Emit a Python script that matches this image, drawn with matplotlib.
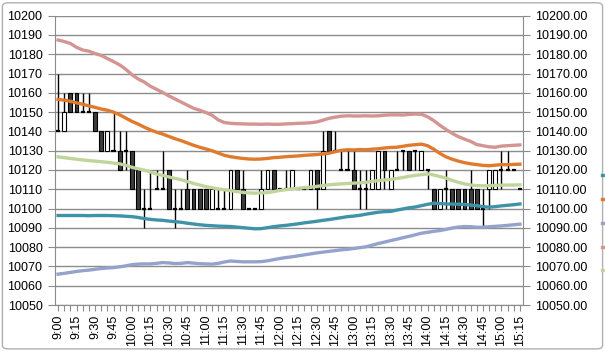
import numpy as np
import matplotlib
matplotlib.use("Agg")
import matplotlib.pyplot as plt
from matplotlib.patches import FancyBboxPatch

plt.rcParams['font.family'] = ['Liberation Sans', 'DejaVu Sans']

# 5-minute candles, 9:00 - 15:15
opens = [10140, 10140, 10160, 10160, 10150, 10150, 10150, 10140, 10130, 10130,
         10130, 10130, 10130, 10120, 10100, 10100, 10110, 10110, 10120, 10100,
         10100, 10110, 10110, 10110, 10110, 10100, 10100, 10100, 10100, 10120,
         10110, 10100, 10100, 10100, 10110, 10120, 10110, 10110, 10110, 10110,
         10110, 10110, 10120, 10110, 10140, 10130, 10120, 10120, 10120, 10110,
         10110, 10110, 10110, 10130, 10110, 10120, 10130, 10130, 10130, 10120,
         10120, 10110, 10100, 10110, 10110, 10110, 10110, 10110, 10110, 10100,
         10110, 10110, 10120, 10120, 10120, 10110]
highs = [10170, 10160, 10160, 10160, 10160, 10160, 10150, 10140, 10140, 10150,
         10140, 10140, 10130, 10120, 10110, 10120, 10120, 10130, 10120, 10110,
         10110, 10120, 10110, 10110, 10110, 10110, 10110, 10110, 10120, 10120,
         10120, 10100, 10100, 10120, 10120, 10120, 10110, 10120, 10120, 10110,
         10110, 10120, 10120, 10140, 10140, 10140, 10130, 10130, 10130, 10120,
         10120, 10120, 10130, 10130, 10120, 10130, 10130, 10130, 10130, 10130,
         10120, 10110, 10110, 10120, 10110, 10110, 10110, 10120, 10110, 10110,
         10120, 10120, 10130, 10130, 10120, 10110]
lows = [10140, 10140, 10150, 10150, 10150, 10150, 10140, 10130, 10130, 10130,
        10120, 10120, 10110, 10100, 10090, 10100, 10110, 10110, 10100, 10090,
        10100, 10100, 10100, 10100, 10100, 10100, 10100, 10100, 10100, 10110,
        10100, 10100, 10100, 10100, 10110, 10110, 10110, 10110, 10110, 10110,
        10110, 10110, 10100, 10110, 10130, 10130, 10120, 10120, 10110, 10100,
        10100, 10110, 10110, 10110, 10110, 10120, 10120, 10120, 10120, 10120,
        10110, 10100, 10100, 10100, 10100, 10100, 10100, 10100, 10100, 10090,
        10100, 10110, 10110, 10120, 10120, 10110]
closes = [10140, 10150, 10150, 10150, 10150, 10150, 10140, 10130, 10140, 10130,
          10120, 10130, 10110, 10100, 10100, 10100, 10110, 10110, 10100, 10100,
          10100, 10100, 10100, 10100, 10100, 10110, 10100, 10100, 10120, 10110,
          10100, 10100, 10100, 10110, 10120, 10110, 10110, 10110, 10120, 10110,
          10110, 10120, 10110, 10130, 10130, 10130, 10120, 10120, 10110, 10110,
          10110, 10120, 10130, 10120, 10120, 10120, 10130, 10120, 10130, 10130,
          10120, 10100, 10110, 10110, 10100, 10100, 10100, 10100, 10100, 10100,
          10120, 10120, 10120, 10120, 10120, 10110]

# bands
minus1 = [10096.4, 10096.4, 10096.4, 10096.4, 10096.4, 10096.3, 10096.4, 10096.4, 10096.4, 10096.3,
          10096.2, 10096.0, 10095.8, 10095.4, 10094.8, 10094.4, 10094.1, 10093.9, 10093.5, 10093.2,
          10092.9, 10092.4, 10092.0, 10091.6, 10091.3, 10091.1, 10090.9, 10090.8, 10090.7, 10090.4,
          10090.1, 10089.8, 10089.5, 10089.6, 10090.1, 10090.6, 10091.0, 10091.3, 10091.7, 10092.1,
          10092.6, 10093.0, 10093.4, 10093.9, 10094.3, 10094.8, 10095.3, 10095.8, 10096.1, 10096.5,
          10097.1, 10097.6, 10098.1, 10098.4, 10098.5, 10099.2, 10099.8, 10100.4, 10100.8, 10101.5,
          10102.2, 10102.8, 10102.6, 10102.4, 10102.3, 10102.3, 10102.1, 10101.8, 10101.5, 10101.0,
          10100.7, 10101.0, 10101.4, 10101.7, 10102.0, 10102.4]
plus1 = [10156.6, 10156.2, 10155.6, 10154.8, 10154.1, 10153.2, 10152.5, 10151.6, 10151.0, 10150.0,
         10148.6, 10146.9, 10145.2, 10143.8, 10142.2, 10140.8, 10139.6, 10138.6, 10137.4, 10136.2,
         10135.2, 10134.0, 10132.8, 10131.8, 10130.9, 10130.0, 10128.8, 10127.6, 10126.9, 10126.4,
         10126.0, 10125.7, 10125.6, 10125.7, 10126.0, 10126.4, 10126.6, 10126.9, 10127.1, 10127.3,
         10127.6, 10127.8, 10128.0, 10128.3, 10128.7, 10129.5, 10130.2, 10130.5, 10130.4, 10130.6,
         10130.5, 10130.8, 10131.0, 10131.4, 10131.7, 10131.8, 10132.3, 10132.8, 10133.1, 10133.4,
         10132.6, 10130.8, 10128.6, 10126.8, 10125.6, 10124.6, 10123.8, 10123.2, 10122.8, 10122.4,
         10122.2, 10122.5, 10122.8, 10122.7, 10122.9, 10123.0]
minus2 = [10066.0, 10066.4, 10066.9, 10067.4, 10067.8, 10068.1, 10068.5, 10068.9, 10069.2, 10069.4,
          10069.8, 10070.3, 10070.9, 10071.2, 10071.3, 10071.3, 10071.6, 10072.0, 10071.8, 10071.5,
          10071.6, 10072.0, 10071.7, 10071.4, 10071.3, 10071.2, 10071.6, 10072.3, 10072.8, 10072.6,
          10072.4, 10072.4, 10072.4, 10072.5, 10072.9, 10073.5, 10074.1, 10074.6, 10075.0, 10075.5,
          10076.0, 10076.5, 10077.0, 10077.4, 10077.8, 10078.2, 10078.6, 10078.9, 10079.3, 10079.7,
          10080.2, 10081.0, 10081.9, 10082.6, 10083.4, 10084.1, 10084.9, 10085.6, 10086.4, 10087.2,
          10087.7, 10088.2, 10088.6, 10089.2, 10089.9, 10090.4, 10090.7, 10090.6, 10090.3, 10090.3,
          10090.6, 10090.8, 10091.0, 10091.3, 10091.6, 10091.9]
plus2 = [10187.4, 10186.6, 10185.6, 10183.6, 10182.2, 10181.6, 10180.4, 10179.4, 10177.8, 10176.2,
         10174.5, 10172.2, 10169.4, 10167.2, 10165.6, 10163.4, 10161.8, 10160.2, 10158.4, 10156.8,
         10155.2, 10153.6, 10152.0, 10151.0, 10149.8, 10148.4, 10146.0, 10144.6, 10144.2, 10144.0,
         10143.9, 10143.8, 10143.8, 10143.7, 10143.8, 10143.7, 10143.7, 10143.9, 10144.0, 10144.2,
         10144.3, 10144.5, 10144.9, 10145.8, 10146.8, 10147.4, 10147.9, 10148.1, 10148.0, 10148.0,
         10148.1, 10148.0, 10148.1, 10148.4, 10148.6, 10148.6, 10148.5, 10148.8, 10149.0, 10148.9,
         10147.6, 10145.6, 10143.2, 10141.0, 10139.0, 10137.3, 10136.0, 10134.8, 10133.2, 10132.6,
         10132.0, 10131.8, 10132.4, 10132.6, 10132.8, 10133.0]
ma = [10126.8, 10126.4, 10126.0, 10125.6, 10125.2, 10124.9, 10124.6, 10124.3, 10124.0, 10123.6,
      10123.2, 10122.4, 10121.4, 10120.6, 10119.9, 10119.0, 10117.9, 10117.2, 10116.4, 10115.6,
      10114.9, 10114.0, 10113.0, 10112.2, 10111.4, 10110.8, 10110.2, 10109.7, 10109.3, 10108.8,
      10108.4, 10108.1, 10108.0, 10108.1, 10108.3, 10108.8, 10109.4, 10109.8, 10110.2, 10110.5,
      10110.9, 10111.1, 10111.5, 10111.9, 10112.3, 10112.6, 10112.8, 10113.0, 10113.2, 10113.3,
      10113.6, 10114.1, 10114.5, 10114.8, 10115.1, 10115.6, 10116.1, 10116.7, 10117.2, 10117.6,
      10118.0, 10117.4, 10116.6, 10115.8, 10114.6, 10113.6, 10112.8, 10112.2, 10111.9, 10111.8,
      10111.9, 10112.0, 10112.1, 10112.2, 10112.2, 10112.3]

time_labels = ['9:00', '9:15', '9:30', '9:45', '10:00', '10:15', '10:30', '10:45',
               '11:00', '11:15', '11:30', '11:45', '12:00', '12:15', '12:30', '12:45',
               '13:00', '13:15', '13:30', '13:45', '14:00', '14:15', '14:30', '14:45',
               '15:00', '15:15']

fig = plt.figure(figsize=(6.05, 3.51), dpi=100)
ax = fig.add_axes([55/605, 1-305/351, 468/605, (305-15.7)/351])

n = len(opens)
x = np.arange(n)
o = np.array(opens); c = np.array(closes)
ax.vlines(x, lows, highs, color='black', lw=1, zorder=2)
up = c > o
down = c < o
ax.bar(x[up], (c - o)[up], bottom=o[up], width=0.62, color='white',
       edgecolor='black', linewidth=0.8, zorder=3)
ax.bar(x[down], (o - c)[down], bottom=c[down], width=0.62, color='#3c3c3c',
       edgecolor='black', linewidth=0.8, zorder=3)
doji = c == o
ax.hlines(o[doji], x[doji] - 0.33, x[doji] + 0.33, color='black', lw=1.6, zorder=3)

lw = 2.4
l1, = ax.plot(x, minus1, color='#3f93a8', lw=lw, zorder=4)
l2, = ax.plot(x, plus1, color='#e07a2e', lw=lw, zorder=4)
l3, = ax.plot(x, minus2, color='#94a3cc', lw=lw, zorder=4)
l4, = ax.plot(x, plus2, color='#d49492', lw=lw, zorder=4)
l5, = ax.plot(x, ma, color='#c0d59c', lw=lw, zorder=4)

ax.set_xlim(-0.5, n - 0.5)
ax.set_ylim(10050, 10200)
ax.set_yticks(np.arange(10050, 10201, 10))
ax.yaxis.grid(True, color='#8c8c8c', lw=1)
ax.set_axisbelow(True)

ax.set_xticks(x)
xl = [''] * n
for k, t in enumerate(time_labels):
    xl[k * 3] = t
ax.set_xticklabels(xl, rotation=90, fontsize=9)
ax.tick_params(axis='x', length=4, color='#8c8c8c', pad=3)
ax.tick_params(axis='y', length=5, color='#8c8c8c', labelsize=9, pad=4)

for s in ['top', 'right']:
    ax.spines[s].set_visible(False)
for s in ['left', 'bottom']:
    ax.spines[s].set_color('#8c8c8c')

ax2 = ax.twinx()
ax2.set_ylim(10050, 10200)
ax2.set_yticks(np.arange(10050, 10201, 10))
ax2.set_yticklabels(['%.2f' % v for v in np.arange(10050, 10201, 10)])
ax2.tick_params(axis='y', length=5, color='#8c8c8c', labelsize=9, pad=4)
for s in ['top', 'left', 'bottom']:
    ax2.spines[s].set_visible(False)
ax2.spines['right'].set_color('#8c8c8c')

# legend sits at the right edge; only its keys are visible
fig.legend(handles=[l1, l2, l3, l4, l5], labels=[' '] * 5, loc='upper left',
           bbox_to_anchor=(596/605, 1 - 164/351), frameon=False,
           fontsize=9, handlelength=1.2, labelspacing=0.95, borderpad=0,
           handletextpad=0.5)

fig.patches.append(FancyBboxPatch((0.004, 0.006), 0.992, 0.986,
                                  boxstyle='round,pad=0,rounding_size=0.01',
                                  transform=fig.transFigure, fill=False,
                                  edgecolor='#b0b0b0', lw=1))

fig.savefig('out.png', dpi=100)
